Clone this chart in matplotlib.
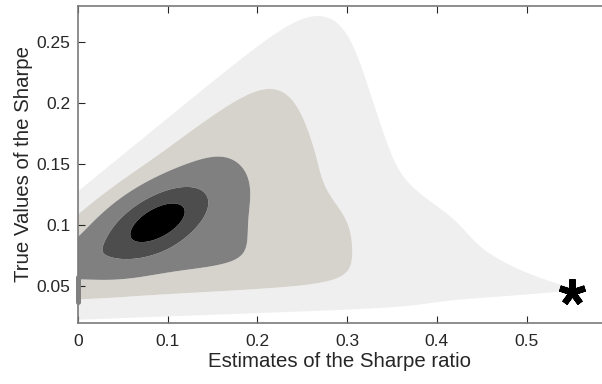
import numpy as np
import matplotlib
matplotlib.use("Agg")
import matplotlib.pyplot as plt

# ---------------- data ----------------
# filled contour bands, from the outermost to the innermost
band_colors = ["#efefef", "#d6d2cc", "#808080", "#4d4d4d", "#000000"]
# penalty thresholds of the three outer bands (outer, beige, grey)
band_penalty = [6.0, 4.5, 3.0]
# density thresholds of the two inner bands (dark grey, black)
core_levels = [0.29, 0.76]

# lower edge of the density: y0 + y1*x, spread w0 + w1*x
bottom_edge = [0.0905, 0.078]
bottom_spread = [0.0113, 0.0085]
# upper-left (diagonal) edge: y0 + y1*x, spread w0 + w1*x
diag_edge = [0.048, 0.42]
diag_spread = [0.0133, 0.03]
# upper edge in y and its spread
top_edge = [0.047, 0.039]
# right edge of the grey band, y where it starts to recede, recession rate
right_edge = [0.19, 0.15, 0.4]
# spread of the right edge: high y, low y, switch y, switch width
right_spread = [0.053, 0.078, 0.117, 0.010]
# right tail at low true values: tip x, tip y, upper scale, upper rate,
# upper curvature, lower slope, spread
tail = [0.60, 0.047, 0.071, 0.005, 5.0, 13.5, 0.25]
# central peak: centre x, centre y, sd x, sd y, correlation
core = [0.090, 0.1030, 0.031, 0.016, 0.55]
# point mass of estimates at zero: y range
mass_at_zero = [0.0376, 0.0575]
# marked observation
star_x = [0.551]
star_y = [0.045]

xticks = [0, 0.1, 0.2, 0.3, 0.4, 0.5]
xticklabels = ["0", "0.1", "0.2", "0.3", "0.4", "0.5"]
yticks = [0.05, 0.1, 0.15, 0.2, 0.25]
yticklabels = ["0.05", "0.1", "0.15", "0.2", "0.25"]

# ---------------- density surface ----------------
TAU = 0.45


def smax(arrs, tau):
    m = np.maximum.reduce(arrs)
    return m + tau * np.log(sum(np.exp((a - m) / tau) for a in arrs))


def softpos(v, s):
    return s * np.logaddexp(0, v / s)


x = np.linspace(0.0, 0.6, 721)
y = np.linspace(0.01, 0.29, 701)
X, Y = np.meshgrid(x, y)

E_b = (bottom_edge[0] + bottom_edge[1] * X - Y) / (bottom_spread[0] + bottom_spread[1] * X)
E_d = (Y - (diag_edge[0] + diag_edge[1] * X)) / (diag_spread[0] + diag_spread[1] * X)
E_t = (Y - top_edge[0]) / top_edge[1]

g = right_edge[0] - right_edge[2] * softpos(Y - right_edge[1], 0.01)
w = right_spread[0] + (right_spread[1] - right_spread[0]) / (
    1 + np.exp((Y - right_spread[2]) / right_spread[3]))
Er_body = band_penalty[2] + (X - g) / w

tip_x, tip_y, s_hi, h_hi, q_hi, k_lo, lam = tail
up = softpos(Y - tip_y, 0.001)
xr_tail = (tip_x - s_hi * np.log1p(up / h_hi) - q_hi * up ** 2
           - k_lo * softpos(tip_y - Y, 0.001))
Er_tail = band_penalty[0] + (X - xr_tail) / lam
Er = -smax([-Er_body, -Er_tail], 0.15)

E = smax([E_b, E_d, E_t, Er], TAU)

cx, cy, sx, sy, rho = core
dx = (X - cx) / sx
dy = (Y - cy) / sy
Q = (dx ** 2 - 2 * rho * dx * dy + dy ** 2) / (1 - rho ** 2)
Z = np.exp(-E) + np.exp(-Q / 2)

levels = [np.exp(-p) for p in band_penalty] + core_levels + [Z.max() + 1]

# ---------------- figure ----------------
plt.rcParams["font.family"] = ["Liberation Sans", "DejaVu Sans"]
fig = plt.figure(figsize=(6.02, 3.84), dpi=100)
ax = fig.add_axes([78 / 602, 61 / 384, 524 / 602, 317.5 / 384])

ax.contourf(X, Y, Z, levels=levels, colors=band_colors, antialiased=True)
ax.plot([0, 0], mass_at_zero, color="#808080", lw=3.6, solid_capstyle="round",
        clip_on=False, zorder=4)
ax.plot(star_x, star_y, linestyle="none", marker=(5, 2, 0), ms=19, mew=4.5,
        color="black", zorder=5)

ax.set_xlim(0, 524 / 897)
ax.set_ylim(0.02, 0.28)
ax.set_xticks(xticks)
ax.set_xticklabels(xticklabels)
ax.set_yticks(yticks)
ax.set_yticklabels(yticklabels)

txt = "#262626"
ax.tick_params(axis="both", direction="in", length=5, width=0.8, color=txt,
               labelcolor=txt, labelsize=12.5, top=True, right=False)
ax.tick_params(axis="x", pad=8)
ax.tick_params(axis="y", pad=5.5)
for side in ["left", "bottom", "top"]:
    ax.spines[side].set_color("#7a7a7a")
    ax.spines[side].set_linewidth(1.2)
ax.spines["right"].set_visible(False)

ax.set_xlabel("Estimates of the Sharpe ratio", fontsize=14.7, color=txt, labelpad=2)
ax.set_ylabel("True Values of the Sharpe", fontsize=14.7, color=txt, labelpad=2.5)

fig.savefig("out.png", dpi=100)
